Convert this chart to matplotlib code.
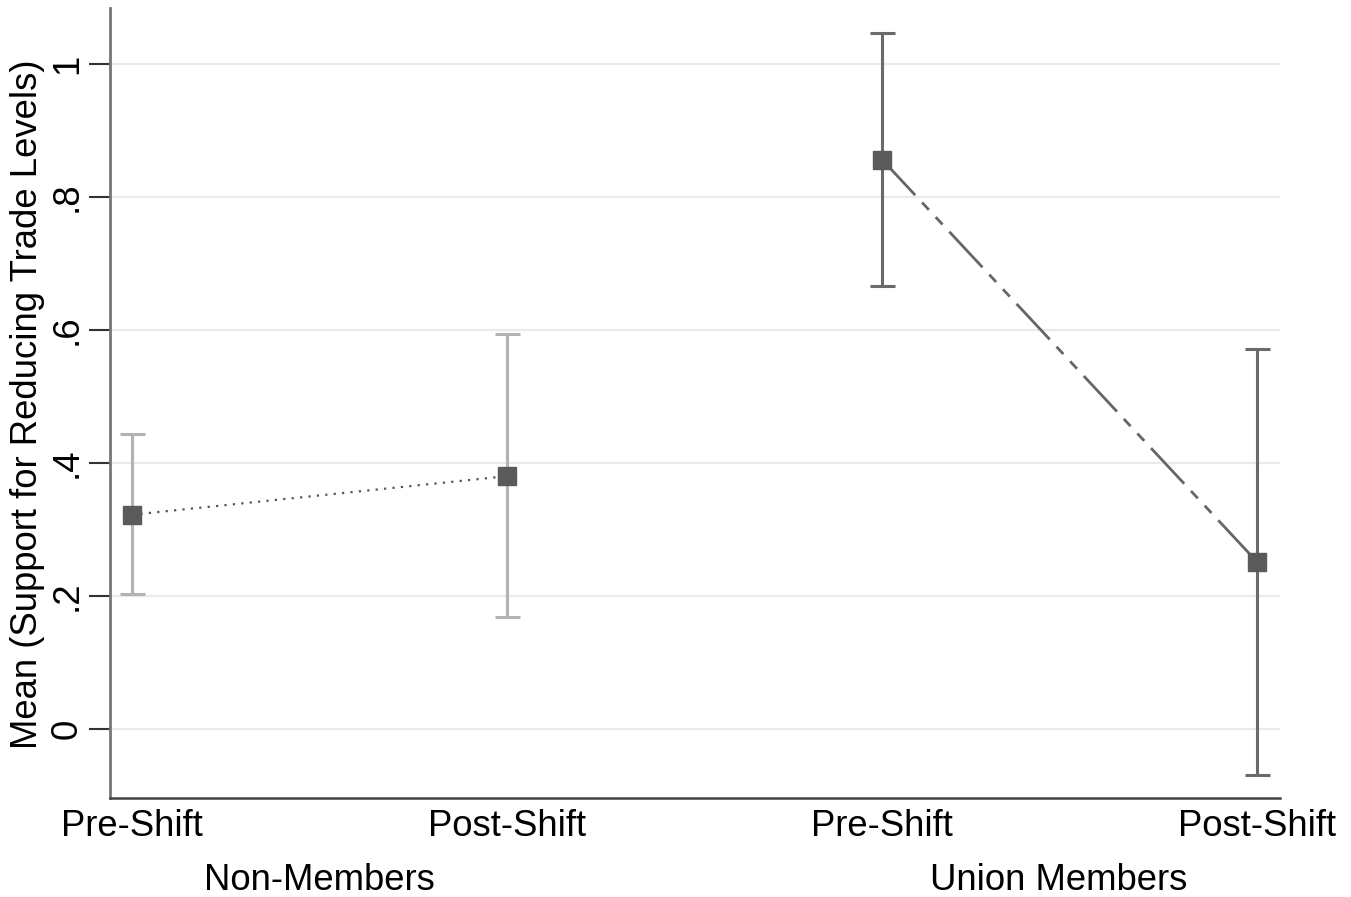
import matplotlib
matplotlib.use("Agg")
import matplotlib.pyplot as plt
import numpy as np

plt.rcParams['font.family'] = ['Liberation Sans', 'DejaVu Sans']

# Data
conditions = ["Pre-Shift", "Post-Shift", "Pre-Shift", "Post-Shift"]
groups = ["Non-Members", "Union Members"]
nonmem_mean = [0.322, 0.380]
nonmem_lo = [0.203, 0.168]
nonmem_hi = [0.444, 0.594]
union_mean = [0.856, 0.251]
union_lo = [0.666, -0.069]
union_hi = [1.047, 0.571]
yticks = [0, 0.2, 0.4, 0.6, 0.8, 1.0]
ytick_labels = ["0", ".2", ".4", ".6", ".8", "1"]

FS = 26.3

fig = plt.figure(figsize=(13.51, 8.97), dpi=100)
ax = fig.add_axes([110/1351, 1-798/897, (1280-110)/1351, (798-8)/897])

x_non = np.array([0, 1])
x_uni = np.array([2, 3])

# grid
for t in yticks:
    ax.axhline(t, color='#e4ecef', lw=1.6, zorder=0)

# Non-members
ax.errorbar(x_non, nonmem_mean,
            yerr=[np.array(nonmem_mean) - np.array(nonmem_lo), np.array(nonmem_hi) - np.array(nonmem_mean)],
            fmt='none', ecolor='#b3b3b3', elinewidth=2.2, capsize=9, capthick=2.2, zorder=2)
ax.plot(x_non, nonmem_mean, color='#555555', lw=1.6, linestyle=(0, (1, 2.8)), zorder=3)
ax.plot(x_non, nonmem_mean, 's', color='#5a5a5a', markersize=13, zorder=4)

# Union members
ax.errorbar(x_uni, union_mean,
            yerr=[np.array(union_mean) - np.array(union_lo), np.array(union_hi) - np.array(union_mean)],
            fmt='none', ecolor='#6a6a6a', elinewidth=2.2, capsize=9, capthick=2.2, zorder=2)
ax.plot(x_uni, union_mean, color='#666666', lw=2.0,
        linestyle=(0, (17.5, 3.6, 3.6, 3.6, 3.6, 3.6)), zorder=3)
ax.plot(x_uni, union_mean, 's', color='#5a5a5a', markersize=13, zorder=4)

ax.set_xlim(-0.0587, 3.061)
ax.set_ylim(-0.104, 1.084)

ax.set_yticks(yticks)
ax.set_yticklabels(ytick_labels, rotation=90, va='center', fontsize=FS)
ax.tick_params(axis='y', length=15, width=1.5, color='#333333', pad=3)
ax.set_xticks([0, 1, 2, 3])
ax.set_xticklabels(conditions, fontsize=FS)
ax.tick_params(axis='x', length=0, pad=8)

for s in ['top', 'right']:
    ax.spines[s].set_visible(False)
ax.spines['left'].set_color('#777777')
ax.spines['left'].set_linewidth(2)
ax.spines['bottom'].set_color('#444444')
ax.spines['bottom'].set_linewidth(1.8)

ax.set_ylabel("Mean (Support for Reducing Trade Levels)", fontsize=FS, va='center', ha='center')
ax.yaxis.set_label_coords(-(110-28)/1170, (798-404)/790)

# group labels
ax.text(0.5, -(880-798)/790, groups[0], transform=ax.get_xaxis_transform(), ha='center', va='center', fontsize=FS)
ax.text(2.47, -(880-798)/790, groups[1], transform=ax.get_xaxis_transform(), ha='center', va='center', fontsize=FS)

fig.savefig("out.png", dpi=100)
